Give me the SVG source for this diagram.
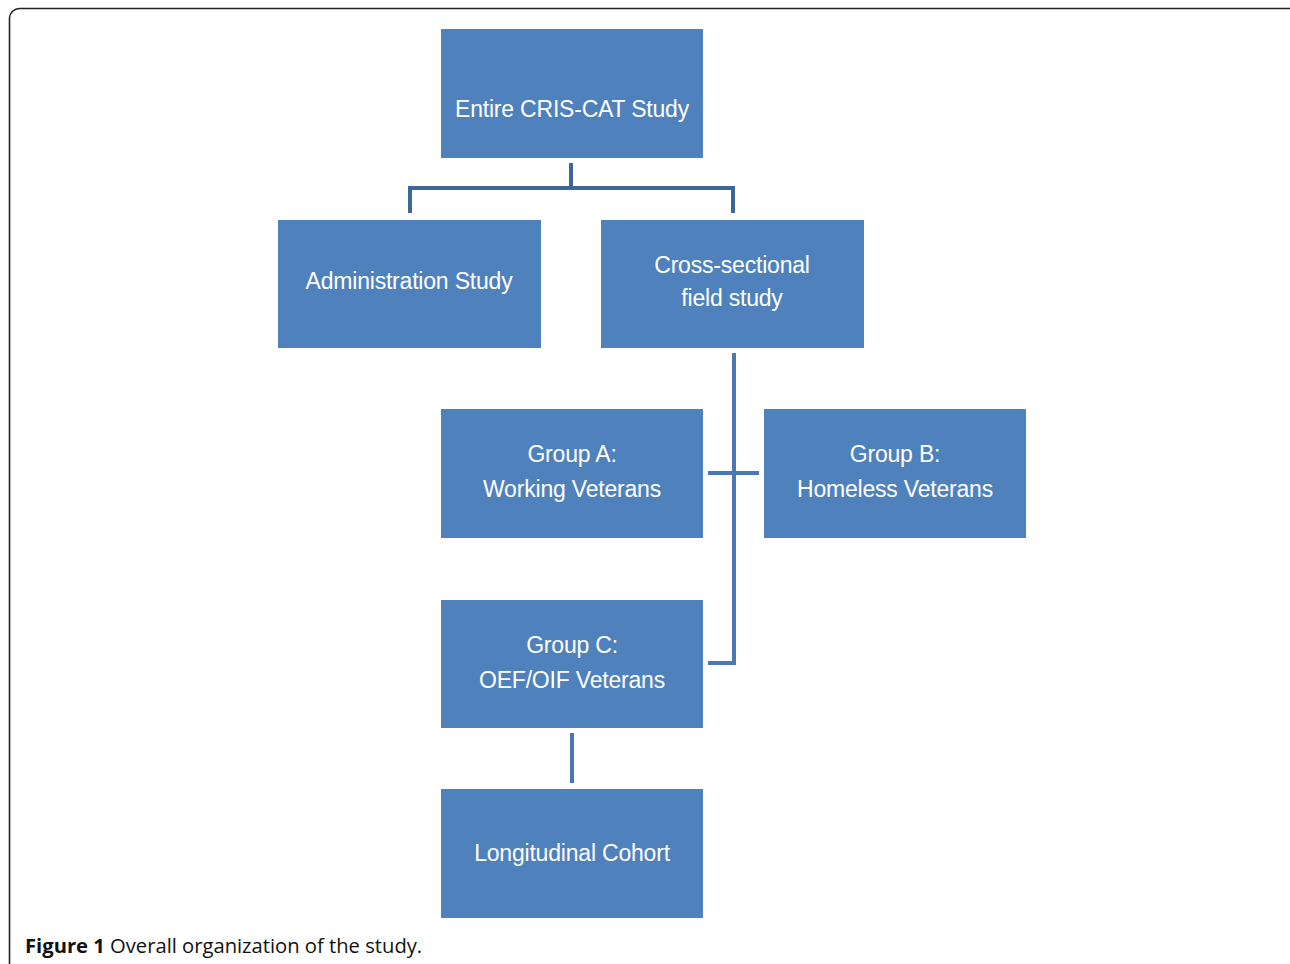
<svg xmlns="http://www.w3.org/2000/svg" width="1290" height="964" viewBox="0 0 1290 964">
<style>
.box{fill:#4F81BD}
.t{fill:#fff;font-family:"Liberation Sans",Arial,sans-serif;font-size:23px;text-anchor:middle;letter-spacing:-0.2px}
.c{fill:none;stroke:#4A78B3;stroke-width:4}
.c2{fill:none;stroke:#3D6699;stroke-width:4}
.cap{font-family:"Open Sans","Noto Sans",sans-serif;font-size:20.2px;fill:#111}
</style>
<rect width="1290" height="964" fill="#fff"/>
<path d="M9.5,980 V18 A10,10 0 0 1 19.5,8.5 H1300" fill="none" stroke="#222" stroke-width="1.6"/>
<g id="connectors">
<path class="c2" d="M571,163 V188 M410,213 V188 H733 V213"/>
<path class="c" d="M734,353 V663 H708 M708,473 H759"/>
<path class="c" d="M572,733 V783"/>
</g>
<g id="n-entire"><rect class="box" x="441" y="29" width="262" height="129"/><text class="t" x="572" y="117">Entire CRIS-CAT Study</text></g>
<g id="n-admin"><rect class="box" x="278" y="220" width="263" height="128"/><text class="t" x="409" y="289">Administration Study</text></g>
<g id="n-cross"><rect class="box" x="601" y="220" width="263" height="128"/><text class="t" x="732" y="273">Cross-sectional</text><text class="t" x="732" y="306">field study</text></g>
<g id="n-groupA"><rect class="box" x="441" y="409" width="262" height="129"/><text class="t" x="572" y="462">Group A:</text><text class="t" x="572" y="497">Working Veterans</text></g>
<g id="n-groupB"><rect class="box" x="764" y="409" width="262" height="129"/><text class="t" x="895" y="462">Group B:</text><text class="t" x="895" y="497">Homeless Veterans</text></g>
<g id="n-groupC"><rect class="box" x="441" y="600" width="262" height="128"/><text class="t" x="572" y="653">Group C:</text><text class="t" x="572" y="688">OEF/OIF Veterans</text></g>
<g id="n-long"><rect class="box" x="441" y="789" width="262" height="129"/><text class="t" x="572" y="861">Longitudinal Cohort</text></g>
<text class="cap" x="25" y="953"><tspan font-weight="bold">Figure 1</tspan> Overall organization of the study.</text>
</svg>
